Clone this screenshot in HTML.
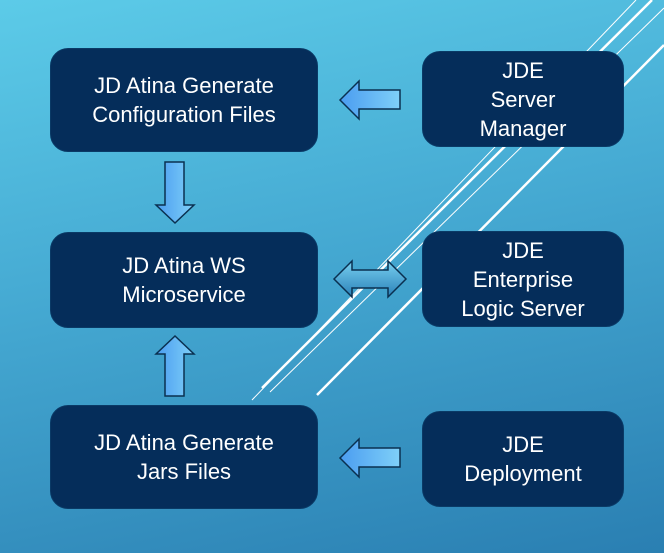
<!DOCTYPE html>
<html><head><meta charset="utf-8"><style>
html,body{margin:0;padding:0}
body{width:664px;height:553px;position:relative;overflow:hidden;background:linear-gradient(168deg,#5ccbe8 0%,#45a9d2 45%,#2a7fb2 100%);font-family:"Liberation Sans",sans-serif}
.b{position:absolute;background:#052d5a;border:1.5px solid #0a3a66;border-radius:18px;color:#fff;font-size:22px;line-height:29px;text-align:center;display:flex;align-items:center;justify-content:center;box-sizing:border-box}
svg{position:absolute;left:0;top:0}
</style></head><body>
<svg width="664" height="553">
<defs>
<linearGradient id="g" x1="0" y1="0" x2="1" y2="0"><stop offset="0" stop-color="#4a9cf0"/><stop offset="1" stop-color="#7fd0f8"/></linearGradient>
<linearGradient id="gd" x1="0" y1="0" x2="0" y2="1"><stop offset="0" stop-color="#78d0f0"/><stop offset="1" stop-color="#2a80b8"/></linearGradient>
</defs>
<g stroke="#fff" fill="none">
<line x1="262" y1="388" x2="652" y2="0" stroke-width="2.5"/>
<line x1="252" y1="400" x2="636" y2="0" stroke-width="1"/>
<line x1="270" y1="392" x2="664" y2="8" stroke-width="1"/>
<line x1="317" y1="395" x2="664" y2="45" stroke-width="2.5"/>
</g>
<g stroke="#0a3050" stroke-width="1.5">
<polygon points="340,100 359,81 359,90 400,90 400,109 359,109 359,119" fill="url(#g)"/>
<polygon points="340,458 359,439 359,448 400,448 400,467 359,467 359,477" fill="url(#g)"/>
<polygon points="165,162 184,162 184,205 194,205 175,223 156,205 165,205" fill="url(#g)"/>
<polygon points="165,396 184,396 184,354 194,354 175,336 156,354 165,354" fill="url(#g)"/>
<polygon points="334,279 352,261 352,270 388,270 388,261 406,279 388,297 388,288 352,288 352,297" fill="url(#gd)"/>
</g>
</svg>
<div class="b" style="left:50px;top:48px;width:268px;height:104px">JD Atina Generate<br>Configuration Files</div>
<div class="b" style="left:50px;top:232px;width:268px;height:96px">JD Atina WS<br>Microservice</div>
<div class="b" style="left:50px;top:405px;width:268px;height:104px">JD Atina Generate<br>Jars Files</div>
<div class="b" style="left:422px;top:51px;width:202px;height:96px">JDE<br>Server<br>Manager</div>
<div class="b" style="left:422px;top:231px;width:202px;height:96px">JDE<br>Enterprise<br>Logic Server</div>
<div class="b" style="left:422px;top:411px;width:202px;height:96px">JDE<br>Deployment</div>
</body></html>
